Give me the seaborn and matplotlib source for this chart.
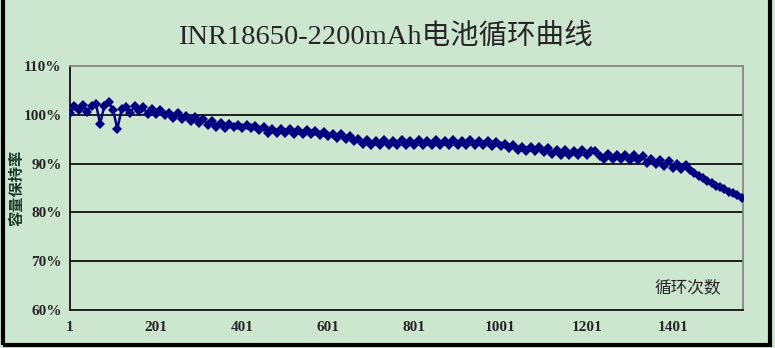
import numpy as np
import pandas as pd
import matplotlib.pyplot as plt
import seaborn as sns
from matplotlib.patches import Rectangle

# datos (un punto cada 10 ciclos)
ciclos = list(range(1, 1562, 10))
capacidad = [
    100.4, 101.8, 100.9, 102.1, 100.6, 101.9, 102.3, 98.2, 101.9, 102.6,
    101.0, 97.1, 101.2, 101.7, 100.4, 101.8, 100.7, 101.5, 100.2, 101.1,
    100.2, 101.0, 99.9, 100.4, 99.3, 100.3, 99.1, 99.8, 98.7, 99.5,
    98.4, 99.1, 98.0, 98.7, 97.6, 98.4, 97.3, 98.1, 97.4, 97.9,
    97.3, 98.0, 97.2, 97.7, 96.9, 97.4, 96.3, 97.1, 96.2, 97.0,
    96.2, 97.0, 96.1, 96.9, 96.1, 96.9, 96.0, 96.7, 95.8, 96.5,
    95.6, 96.1, 95.3, 96.0, 95.0, 95.7, 94.7, 95.1, 94.0, 94.8,
    93.9, 94.7, 93.9, 94.8, 93.8, 94.7, 93.9, 94.8, 93.8, 94.7,
    93.9, 94.8, 93.8, 94.7, 93.9, 94.8, 93.8, 94.7, 93.9, 94.8,
    93.8, 94.7, 93.9, 94.8, 93.8, 94.7, 93.9, 94.6, 93.7, 94.5,
    93.6, 94.1, 93.1, 93.8, 92.8, 93.5, 92.6, 93.4, 92.5, 93.3,
    92.3, 93.1, 92.0, 92.8, 91.8, 92.7, 91.7, 92.6, 91.8, 92.7,
    91.7, 92.6, 92.5, 91.6, 91.0, 91.9, 90.9, 91.8, 90.9, 91.7,
    90.8, 91.7, 90.8, 91.5, 90.2, 91.0, 89.9, 90.8, 89.6, 90.5,
    89.1, 90.0, 88.9, 89.8, 88.7, 88.1, 87.5, 87.1, 86.5, 86.0,
    85.5, 85.2, 84.7, 84.2, 84.0, 83.5, 83.0,
]
y_ticks = [60, 70, 80, 90, 100, 110]
x_ticks = [1, 201, 401, 601, 801, 1001, 1201, 1401]

assert len(ciclos) == len(capacidad)
df = pd.DataFrame({"ciclo": ciclos, "cap": capacidad})

fondo = "#cde6cf"
sns.set_style("white")
plt.rcParams['font.family'] = ['Liberation Serif', 'Noto Sans CJK SC', 'DejaVu Sans']

fig = plt.figure(figsize=(7.75, 3.48), dpi=100, facecolor=fondo)
ax = fig.add_axes([70/775, 1-310/348, 673/775, 244/348])
ax.set_facecolor(fondo)

for v in [70, 80, 90, 100]:
    ax.axhline(v, color="black", linewidth=1.2, zorder=1)

sns.lineplot(data=df, x="ciclo", y="cap", ax=ax, color="#000080",
             marker="D", markersize=5.5, markeredgewidth=0, linewidth=1.8,
             zorder=3)

ax.set_xlim(1, 1564)
ax.set_ylim(60, 110)
ax.set_xticks(x_ticks)
ax.set_xticklabels([str(t) for t in x_ticks], fontsize=11, fontweight="bold")
ax.set_yticks(y_ticks)
ax.set_yticklabels([f"{t}%" for t in y_ticks], fontsize=11, fontweight="bold")
ax.tick_params(axis="x", direction="in", length=5, width=1, color="black", pad=8)
ax.tick_params(axis="y", direction="in", length=0, pad=6)
ax.set_xlabel("")
ax.set_ylabel("")

ax.spines["left"].set_color("black")
ax.spines["bottom"].set_color("black")
ax.spines["top"].set_color("#808080")
ax.spines["right"].set_color("#808080")
for s in ax.spines.values():
    s.set_linewidth(1.2)

ax.text(0.918, 0.09, "循环次数", transform=ax.transAxes, ha="center", va="center",
        fontsize=12, family=['Noto Sans CJK SC'])

fig.text(0.497, 1-37/348, "INR18650-2200mAh电池循环曲线", ha="center", va="center",
         fontsize=20.5)
fig.text(17/775, 1-188/348, "容量保持率", rotation=90, ha="center", va="center",
         fontsize=11, fontweight="bold", family=['Noto Sans CJK SC'], color="#1a3a2a")

# marco negro exterior
fig.patches.append(Rectangle((0.004, 0.008), 0.99, 1.1, transform=fig.transFigure,
                             fill=False, edgecolor="black", linewidth=3))

fig.savefig("out.png", dpi=100, facecolor=fondo)
